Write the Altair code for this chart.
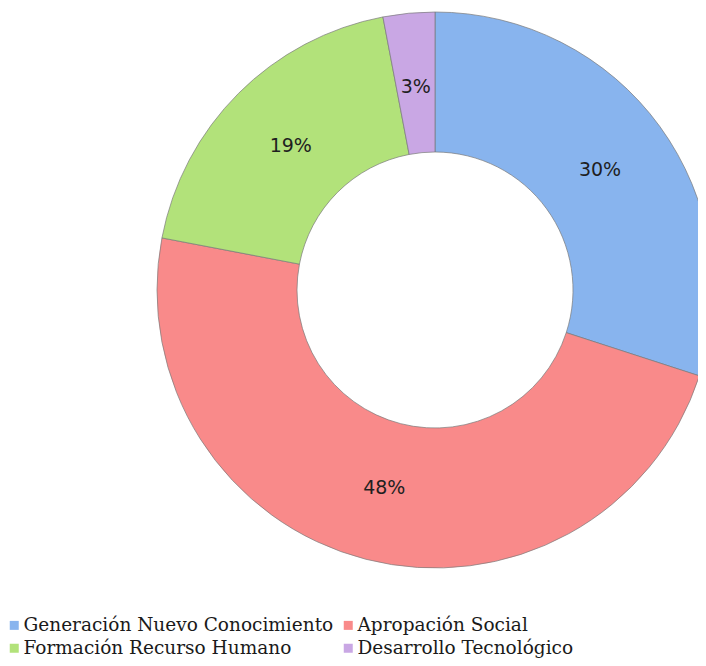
import altair as alt
import pandas as pd

categories = [
    "Generación Nuevo Conocimiento",
    "Apropación Social",
    "Formación Recurso Humano",
    "Desarrollo Tecnológico",
]
values = [30, 48, 19, 3]
labels = ["30%", "48%", "19%", "3%"]
colors = ["#88B4EE", "#F98A8A", "#B2E27A", "#C9A7E4"]

df = pd.DataFrame({
    "cat": categories,
    "value": values,
    "label": labels,
    "idx": list(range(len(categories))),
})

CX, CY = 427, 282

base = alt.Chart(df).encode(
    theta=alt.Theta("value:Q", stack=True),
    order=alt.Order("idx:O"),
    x=alt.value(CX),
    y=alt.value(CY),
)

arcs = base.mark_arc(
    outerRadius=278, innerRadius=138, stroke="#7a7a7a", strokeWidth=0.7
).encode(
    color=alt.Color(
        "cat:N",
        scale=alt.Scale(domain=categories, range=colors),
        sort=None,
        legend=alt.Legend(
            title=None,
            orient="none",
            legendX=-3,
            legendY=608,
            direction="horizontal",
            columns=2,
            symbolType="square",
            symbolSize=81,
            symbolStrokeWidth=0,
            labelFont="DejaVu Serif",
            labelFontSize=18.5,
            labelColor="#1a1a1a",
            labelOffset=0,
            columnPadding=5,
            rowPadding=4,
            labelLimit=400,
        ),
    )
)

text = base.mark_text(
    radius=204, font="DejaVu Sans", fontSize=19, color="#1f1f1f"
).encode(text="label:N")

chart = (arcs + text).properties(
    width=690,
    height=650,
    autosize=alt.AutoSizeParams(type="none"),
    padding=0,
).configure_view(stroke=None)

chart.save("out.html", embed_options={"renderer": "svg", "actions": False})
